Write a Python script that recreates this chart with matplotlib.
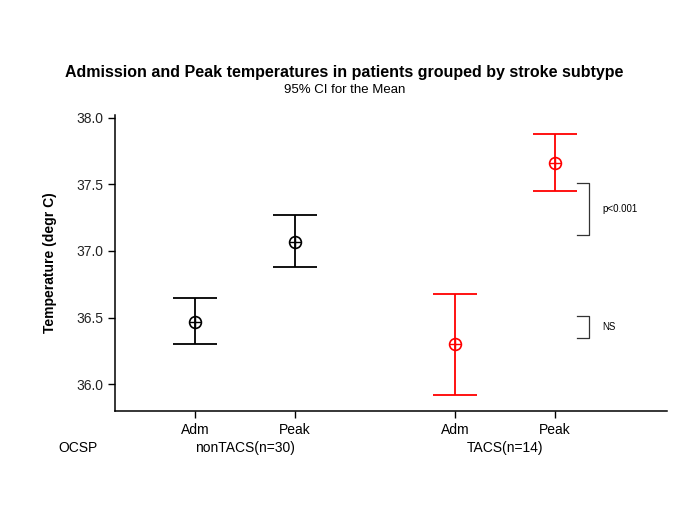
import matplotlib
matplotlib.use("Agg")
import matplotlib.pyplot as plt

plt.rcParams['font.family'] = ['Liberation Sans', 'DejaVu Sans']

# data
groups = ['nonTACS(n=30)', 'TACS(n=14)']
tick_labels = ['Adm', 'Peak', 'Adm', 'Peak']
xpos = [1.0, 2.0, 3.6, 4.6]
means = [36.47, 37.07, 36.30, 37.66]
ci_low = [36.30, 36.88, 35.92, 37.45]
ci_high = [36.65, 37.27, 36.68, 37.88]
colors = ['black', 'black', 'red', 'red']

# significance brackets (y ranges) and labels
brackets = [(37.12, 37.51, 'p<0.001'), (36.35, 36.51, 'NS')]

fig = plt.figure(figsize=(6.85, 5.13), dpi=100)
ax = fig.add_axes([0.168, 0.199, 0.806, 0.577])

for x, m, lo, hi, c in zip(xpos, means, ci_low, ci_high, colors):
    ax.errorbar([x], [m], yerr=[[m - lo], [hi - m]], fmt='none', ecolor=c,
                elinewidth=1.3, capsize=16, capthick=1.3)
    ax.plot([x], [m], marker='o', markersize=8.5, markerfacecolor='none',
            markeredgecolor=c, markeredgewidth=1.2, linestyle='none')
    ax.plot([x], [m], marker='+', markersize=8.5, color=c,
            markeredgewidth=1.0, linestyle='none')

# brackets
bx0, bx1 = 4.82, 4.94
for lo, hi, label in brackets:
    ax.plot([bx0, bx1, bx1, bx0], [hi, hi, lo, lo], color='#333333', lw=0.9)
    ax.text(5.07, (lo + hi) / 2, label, fontsize=7, va='center', ha='left')

ax.set_xlim(0.2, 5.72)
ax.set_ylim(35.8, 38.02)
ax.set_yticks([36.0, 36.5, 37.0, 37.5, 38.0])
ax.set_yticklabels(['36.0', '36.5', '37.0', '37.5', '38.0'])
ax.set_xticks(xpos)
ax.set_xticklabels(tick_labels)
ax.tick_params(axis='both', direction='out', length=5, width=1, labelsize=10,
               colors='black')
ax.tick_params(axis='y', labelcolor='#222222')
ax.spines['top'].set_visible(False)
ax.spines['right'].set_visible(False)
ax.spines['left'].set_linewidth(1.1)
ax.spines['bottom'].set_linewidth(1.1)

ax.set_ylabel('Temperature (degr C)', fontsize=10, fontweight='bold', labelpad=14)

# group row below tick labels
trans = ax.get_xaxis_transform()
ax.text(-0.37, -0.125, 'OCSP', transform=trans, fontsize=10, ha='left', va='center')
ax.text((xpos[0] + xpos[1]) / 2, -0.125, groups[0], transform=trans, fontsize=10,
        ha='center', va='center')
ax.text((xpos[2] + xpos[3]) / 2, -0.125, groups[1], transform=trans, fontsize=10,
        ha='center', va='center')

fig.text(0.503, 0.858, 'Admission and Peak temperatures in patients grouped by stroke subtype',
         fontsize=11.5, fontweight='bold', ha='center', va='center')
fig.text(0.503, 0.824, '95% CI for the Mean', fontsize=9.5, ha='center', va='center')

fig.savefig('out.png', dpi=100)
